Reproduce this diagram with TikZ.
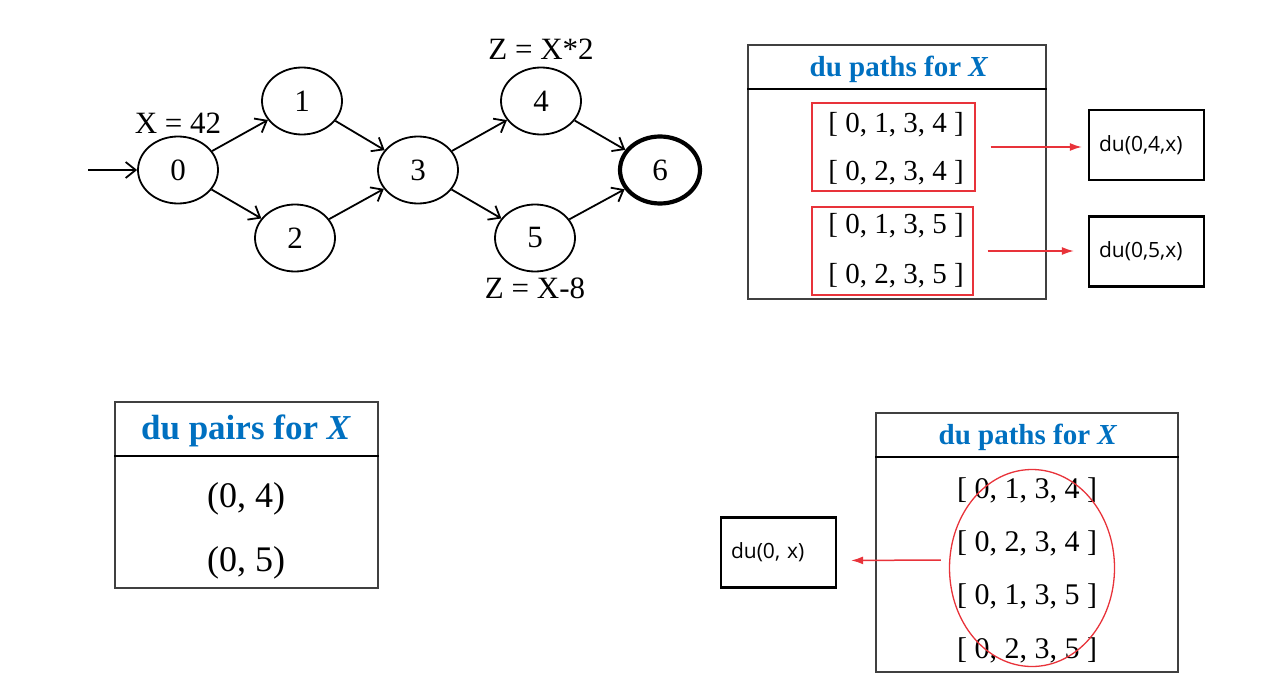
\documentclass[tikz,border=0pt]{standalone}
\usepackage{fontspec}
\setmainfont{Liberation Serif}
\newfontfamily\boxfont{Open Sans}
\usepackage{tikz}
\usetikzlibrary{arrows.meta,positioning,shapes.geometric}
\definecolor{titleblue}{HTML}{0070C0}
\definecolor{markred}{HTML}{E8333A}
\tikzset{
  vtx/.style={ellipse, draw=black, line width=1.8pt, minimum width=80pt,
    minimum height=67pt, inner sep=0pt, font=\fontsize{31}{33}\selectfont},
  exitvtx/.style={vtx, line width=4.2pt},
  lbl/.style={font=\fontsize{31}{33}\selectfont, inner sep=2pt},
  flow/.style={-{Straight Barb[length=10pt,width=16pt]}, line width=1.8pt},
  tbl/.style={rectangle, draw=black!75, line width=1.3pt, inner sep=0pt},
  hdr/.style={line width=2.2pt},
  ttl/.style={font=\fontsize{#1}{#1}\selectfont\bfseries, text=titleblue},
  ttl/.default=29,
  item/.style={font=\fontsize{#1}{#1}\selectfont},
  item/.default=29,
  grp/.style={rectangle, draw=markred, line width=1.3pt, inner sep=0pt},
  fnbox/.style={rectangle, draw=black, line width=2.2pt, text width=95pt,
    inner xsep=10pt, minimum height=70pt, align=left,
    font=\boxfont\fontsize{21}{24}\selectfont},
  redflow/.style={-{Latex[length=12pt,width=8pt]}, draw=markred, line width=1.5pt},
}
\newcommand{\dupath}[4]{[ #1, #2, #3, #4 ]}

\begin{document}
\begin{tikzpicture}[x=1pt, y=-1pt]
    \useasboundingbox (0,0) rectangle (1273,695);

    \node[vtx] (n0) at (178,170) {0};
    \node[vtx] (n1) at (302,101) {1};
    \node[vtx] (n2) at (295,238) {2};
    \node[vtx] (n3) at (418,170) {3};
    \node[vtx] (n4) at (541,101) {4};
    \node[vtx] (n5) at (535,238) {5};
    \node[exitvtx] (n6) at (660,170) {6};
    \coordinate (start) at (88,170);

    \node[lbl, above=0pt of n0] (def) {X = 42};
    \node[lbl, above=5pt of n4] (use4) {Z = X*2};
    \node[lbl, below=3pt of n5] (use5) {Z = X-8};

    \draw[flow] (start) -- (n0);
    \draw[flow] (n0) -- (n1);
    \draw[flow] (n0) -- (n2);
    \draw[flow] (n1) -- (n3);
    \draw[flow] (n2) -- (n3);
    \draw[flow] (n3) -- (n4);
    \draw[flow] (n3) -- (n5);
    \draw[flow] (n4) -- (n6);
    \draw[flow] (n5) -- (n6);

    % du paths, split by use
    \node[tbl, minimum width=298pt, minimum height=254pt] (paths) at (897,172) {};
    \draw[hdr] ([yshift=-45pt]paths.north west) -- ([yshift=-45pt]paths.north east);
    \node[ttl] (pathsT) at (899,69) {du paths for \textit{X}};
    \node[item] (p1) at (896,125) {\dupath0134};
    \node[item] (p2) at (896,173) {\dupath0234};
    \node[item] (p3) at (896,226) {\dupath0135};
    \node[item] (p4) at (896,276) {\dupath0235};
    \node[grp, minimum width=163pt, minimum height=88pt] (grp4) at (893.5,147) {};
    \node[grp, minimum width=161pt, minimum height=88pt] (grp5) at (892.5,251) {};
    \node[fnbox] (f4) at (1146.5,145) {du(0,4,x)};
    \node[fnbox] (f5) at (1146.5,251.5) {du(0,5,x)};
    \draw[redflow, shorten <=15pt, shorten >=6pt] (grp4.east) -- (grp4.east -| f4.west);
    \draw[redflow, shorten <=14pt, shorten >=14pt] (grp5.east) -- (grp5.east -| f5.west);

    % du pairs
    \node[tbl, minimum width=263pt, minimum height=186pt] (pairs) at (246.5,495) {};
    \draw[hdr] ([yshift=-55pt]pairs.north west) -- ([yshift=-55pt]pairs.north east);
    \node[ttl=35] (pairsT) at (246,431) {du pairs for \textit{X}};
    \node[item=36] (r1) at (246,499) {(0, 4)};
    \node[item=36] (r2) at (246,563) {(0, 5)};

    % du paths, all together
    \node[tbl, minimum width=302pt, minimum height=259pt] (all) at (1027,542.5) {};
    \draw[hdr] ([yshift=-45pt]all.north west) -- ([yshift=-45pt]all.north east);
    \node[ttl] (allT) at (1028,437) {du paths for \textit{X}};
    \node[item=30] (q1) at (1027,490) {\dupath0134};
    \node[item=30] (q2) at (1027,543) {\dupath0234};
    \node[item=30] (q3) at (1027,596) {\dupath0135};
    \node[item=30] (q4) at (1027,650) {\dupath0235};
    \node[ellipse, draw=markred, line width=1.3pt, minimum width=165pt,
      minimum height=197pt, inner sep=0pt] (ring) at (1032,568) {};
    \node[fnbox] (fx) at (778.5,552.5) {du(0, x)};
    \draw[redflow, shorten <=8pt, shorten >=14pt] ([yshift=8pt]ring.west) -- ([yshift=-8pt]fx.east);
  \end{tikzpicture}
\end{document}
